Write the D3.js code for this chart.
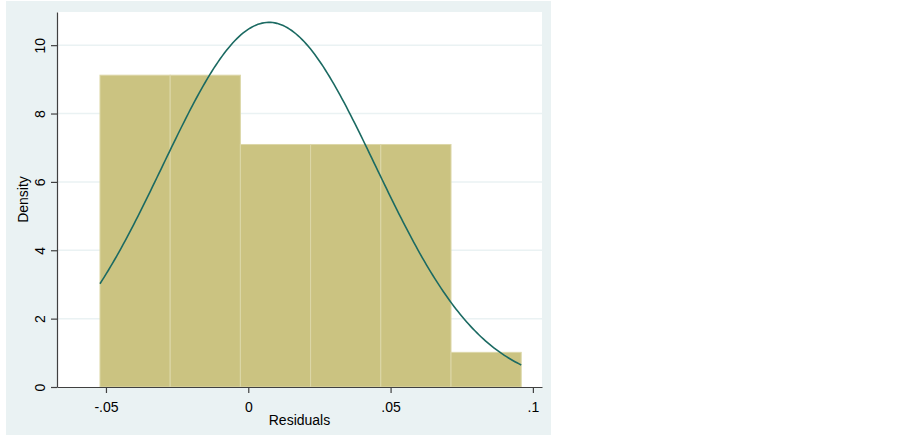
<!DOCTYPE html>
<meta charset="utf-8">
<script src="https://d3js.org/d3.v7.min.js"></script>
<style>
  body { margin: 0; background: #fff; }
  text { font-family: "Liberation Sans", Arial, sans-serif; }
</style>
<div id="chart"></div>
<script>
// histogram of residuals: 6 bins, counts per bin
var binLow = -0.0521, binHigh = 0.0959;
var binCounts = [9, 9, 7, 7, 7, 1];
var nObs = 40;
// normal overlay parameters
var resMean = 0.0073, resSd = 0.0374;
// axis ticks
var xTicks = [-0.05, 0, 0.05, 0.1];
var xTickLabels = ["-.05", "0", ".05", ".1"];
var yTicks = [0, 2, 4, 6, 8, 10];

var W = 903, H = 437;
var plot = {left: 57, right: 542, top: 12, bottom: 387};

var svg = d3.select("#chart").append("svg")
  .attr("width", W).attr("height", H);

// graph region + plot region
svg.append("rect").attr("x", 6).attr("y", 1).attr("width", 545).attr("height", 434)
  .attr("fill", "#eaf2f3");
svg.append("rect").attr("x", plot.left).attr("y", plot.top)
  .attr("width", plot.right - plot.left).attr("height", plot.bottom - plot.top)
  .attr("fill", "#fff");

var x = d3.scaleLinear().domain([-0.0672, 0.1032]).range([plot.left, plot.right]);
var y = d3.scaleLinear().domain([0, 10.97]).range([plot.bottom, plot.top]);

// gridlines
svg.selectAll(".grid")
  .data(yTicks.filter(function(d) { return d > 0; }))
  .enter().append("line")
    .attr("x1", plot.left).attr("x2", plot.right)
    .attr("y1", function(d) { return y(d); })
    .attr("y2", function(d) { return y(d); })
    .attr("stroke", "#eaf2f3")
    .attr("stroke-width", 1.5);

// bars
var binW = (binHigh - binLow) / binCounts.length;
var bins = binCounts.map(function(c, i) {
  return {x0: binLow + i * binW, x1: binLow + (i + 1) * binW, dens: c / (nObs * binW)};
});

svg.selectAll(".bar")
  .data(bins)
  .enter().append("rect")
    .attr("x", function(d) { return x(d.x0); })
    .attr("y", function(d) { return y(d.dens); })
    .attr("width", function(d) { return x(d.x1) - x(d.x0); })
    .attr("height", function(d) { return y(0) - y(d.dens); })
    .attr("fill", "#cbc381")
    .attr("stroke", "#dcd7a8")
    .attr("stroke-width", 1);

// normal density overlay
var curveX = d3.range(0, 201).map(function(i) { return binLow + (binHigh - binLow) * i / 200; });
var normPdf = function(v) {
  var z = (v - resMean) / resSd;
  return Math.exp(-0.5 * z * z) / (resSd * Math.sqrt(2 * Math.PI));
};
svg.append("path")
  .datum(curveX)
  .attr("fill", "none")
  .attr("stroke", "#1b6a62")
  .attr("stroke-width", 1.6)
  .attr("d", d3.line()
    .x(function(d) { return x(d); })
    .y(function(d) { return y(normPdf(d)); }));

// axes
var xAxis = svg.append("g")
  .attr("transform", "translate(0," + plot.bottom + ")")
  .call(d3.axisBottom(x).tickValues(xTicks).tickSize(6).tickSizeOuter(0)
    .tickFormat(function(d, i) { return xTickLabels[i]; }));
xAxis.selectAll("text").attr("y", 25).attr("dy", 0)
  .attr("fill", "#000").style("font-size", "14px");

var yAxis = svg.append("g")
  .attr("transform", "translate(" + plot.left + ",0)")
  .call(d3.axisLeft(y).tickValues(yTicks).tickSize(6).tickSizeOuter(0));
yAxis.selectAll("text")
  .attr("x", 0).attr("y", 0).attr("dy", 0)
  .attr("text-anchor", "middle")
  .attr("transform", "translate(-12,0) rotate(-90)")
  .attr("fill", "#000").style("font-size", "14px");

svg.selectAll(".domain, .tick line").attr("stroke", "#404040").attr("stroke-width", 1.2);
svg.selectAll(".tick text").style("font-family", "Liberation Sans, Arial, sans-serif");

// axis titles
svg.append("text")
  .attr("x", (plot.left + plot.right) / 2).attr("y", 425)
  .attr("text-anchor", "middle").style("font-size", "14px")
  .text("Residuals");
svg.append("text")
  .attr("transform", "translate(28," + (plot.top + plot.bottom) / 2 + ") rotate(-90)")
  .attr("text-anchor", "middle").style("font-size", "14px")
  .text("Density");
</script>
